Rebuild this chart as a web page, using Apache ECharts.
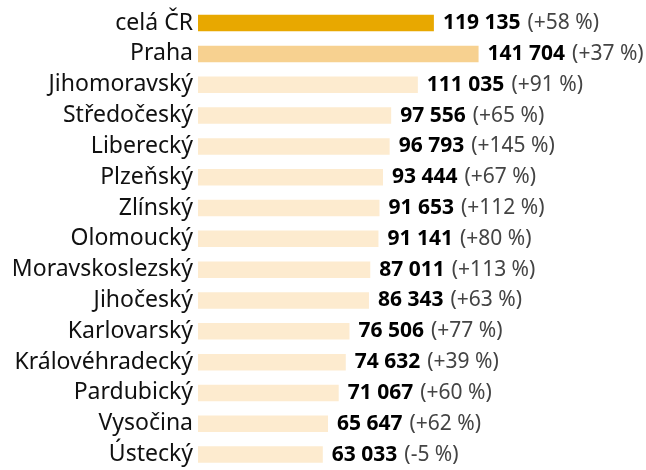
<!DOCTYPE html>
<html><head><meta charset="utf-8">
<script src="https://cdn.jsdelivr.net/npm/echarts@6/dist/echarts.min.js"></script>
<style>html,body{margin:0;padding:0;background:#fff}#c{width:646px;height:470px}</style>
</head><body><div id="c"></div>
<script>
const categories = ["celá ČR","Praha","Jihomoravský","Středočeský","Liberecký","Plzeňský","Zlínský","Olomoucký","Moravskoslezský","Jihočeský","Karlovarský","Královéhradecký","Pardubický","Vysočina","Ústecký"];
const values = [119135,141704,111035,97556,96793,93444,91653,91141,87011,86343,76506,74632,71067,65647,63033];
const changes = [58,37,91,65,145,67,112,80,113,63,77,39,60,62,-5];
const colors = ["#e8a800","#f7d190","#fdebcf"];

function fmt(v){return String(v).replace(/\B(?=(\d{3})+(?!\d))/g,' ');}
function fmtPct(p){return '(' + (p>0?'+':'') + p + ' %)';}

const chart = echarts.init(document.getElementById('c'), null, {renderer:'canvas'});
chart.setOption({
  animation:false,
  grid:{left:198, top:7.7, width:396, height:467.6, containLabel:false},
  xAxis:{type:'value', min:0, max:200000, show:false},
  yAxis:{type:'category', inverse:true, data:categories,
    axisLine:{show:false}, axisTick:{show:false}, splitLine:{show:false},
    axisLabel:{margin:5, color:'#111', fontFamily:'Noto Sans', fontSize:23}},
  series:[{type:'bar', barWidth:16.5,
    data: values.map((v,i)=>({value:v, itemStyle:{color: i===0?colors[0]:(i===1?colors[1]:colors[2])}})),
    label:{show:true, position:'right', distance:9,
      formatter: p => '{b|' + fmt(values[p.dataIndex]) + '}{s|}{n|' + fmtPct(changes[p.dataIndex]) + '}',
      rich:{
        b:{fontFamily:'Noto Sans', fontWeight:'bold', fontSize:21, color:'#000'},
        s:{width:7},
        n:{fontFamily:'Noto Sans', fontWeight:'normal', fontSize:21, color:'#444'}
      }}
  }]
});
</script></body></html>
